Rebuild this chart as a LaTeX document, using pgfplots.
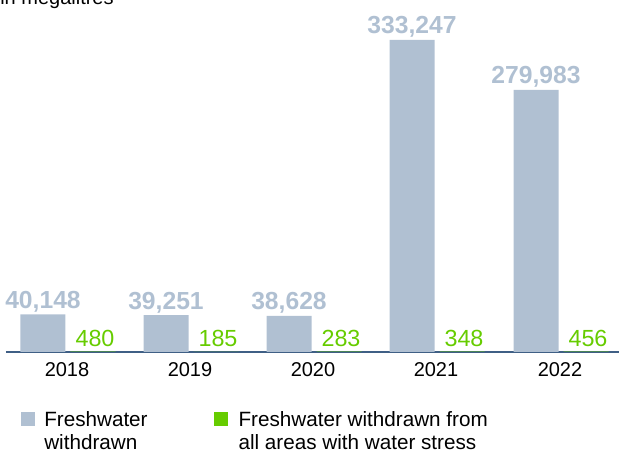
\documentclass[border=0pt]{standalone}
\usepackage{pgfplots}
\pgfplotsset{compat=1.18}
\usepackage{fontspec}
\setmainfont{Liberation Sans}
\definecolor{barblue}{HTML}{B0C0D2}
\definecolor{stressgreen}{HTML}{66CC00}
\definecolor{axisblue}{HTML}{3F5F85}

\begin{document}
\begin{tikzpicture}[x=0.75pt,y=-0.75pt]
\useasboundingbox (0,0) rectangle (619,452);
\node[anchor=base west, inner sep=0, font=\fontsize{15}{18}\selectfont] at (0,4.5) {in megalitres};

\begin{axis}[
    at={(4.5pt,-264pt)}, anchor=south west,
    scale only axis,
    width=459.75pt, height=234pt,
    xmin=6, xmax=619,
    ymin=0, ymax=333247,
    hide y axis,
    ytick=\empty,
    axis x line*=bottom,
    axis line style={axisblue, line width=1.5pt, -},
    xtick={67,190,313,436,560},
    xticklabels={2018,2019,2020,2021,2022},
    major tick length=0pt,
    xticklabel style={anchor=base, inner sep=0pt, yshift=-18.5pt, font=\fontsize{15}{18}\selectfont},
    /pgf/number format/.cd, fixed, precision=0, 1000 sep={,}, assume math mode=true,
    /pgfplots/.cd,
    clip=false,
]

% Freshwater withdrawn
\addplot[ybar, bar width=33.75pt, bar shift=-18pt, fill=barblue, draw=none,
    nodes near coords,
    nodes near coords style={anchor=base, inner sep=0pt, xshift=-18pt, yshift=4.5pt, text=barblue, font=\fontsize{18.5}{21}\selectfont\bfseries}]
    coordinates {(67,40148) (190,39251) (313,38628) (436,333247) (560,279983)};

% Freshwater withdrawn from areas with water stress
\addplot[ybar, bar width=33.75pt, bar shift=19.5pt, fill=stressgreen, draw=none,
    nodes near coords,
    nodes near coords style={anchor=base, inner sep=0pt, xshift=21pt, yshift=4pt, text=stressgreen, font=\fontsize{17.5}{20}\selectfont}]
    coordinates {(67,480) (190,185) (313,283) (436,348) (560,456)};
\end{axis}

% legend
\fill[barblue] (20.7,411.7) rectangle (35,426);
\node[anchor=base west, inner sep=0, font=\fontsize{15.5}{18}\selectfont] at (44,426.7) {Freshwater};
\node[anchor=base west, inner sep=0, font=\fontsize{15.5}{18}\selectfont] at (44,449.5) {withdrawn};
\fill[stressgreen] (214,411.7) rectangle (228.3,426);
\node[anchor=base west, inner sep=0, font=\fontsize{15.5}{18}\selectfont] at (238.3,426.7) {Freshwater withdrawn from};
\node[anchor=base west, inner sep=0, font=\fontsize{15.5}{18}\selectfont] at (238.3,449.5) {all areas with water stress};
\end{tikzpicture}
\end{document}
